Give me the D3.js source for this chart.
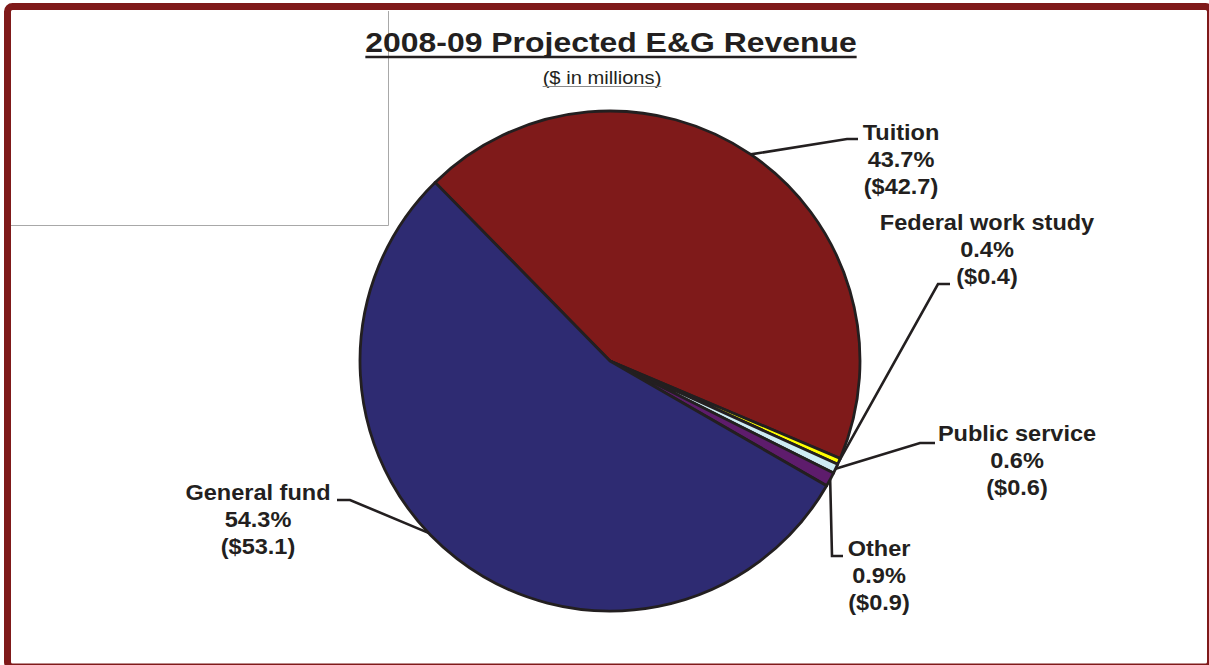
<!DOCTYPE html>
<html>
<head>
<meta charset="utf-8">
<script src="https://cdn.jsdelivr.net/npm/d3@7"></script>
<style>
  html, body { margin: 0; padding: 0; background: #fff; }
  svg { display: block; }
  text { font-family: "Liberation Sans", Arial, sans-serif; fill: #231f20; }
</style>
</head>
<body>
<svg id="chart" width="1209" height="665"></svg>
<script>
// Revenue sources, $ in millions
const categories = ["Tuition", "Federal work study", "Public service", "Other", "General fund"];
const amounts = [42.7, 0.4, 0.6, 0.9, 53.1];
const percentLabels = ["43.7%", "0.4%", "0.6%", "0.9%", "54.3%"];
const amountLabels = ["($42.7)", "($0.4)", "($0.6)", "($0.9)", "($53.1)"];
const titleText = "2008-09 Projected E&G Revenue";
const subtitleText = "($ in millions)";

const colors = ["#7f1a1a", "#ffff00", "#cdebf3", "#5e1c6c", "#2e2b72"];

// Label placement: text centre, first baseline, leader elbow and end,
// and where along its slice (0..1) the leader touches the rim.
const labelLayout = [
  { x: 901,  y: 140, elbow: [847, 139], end: [858, 139], at: 0.5 },
  { x: 987,  y: 230, elbow: [938, 284], end: [950, 284], at: 0.5 },
  { x: 1017, y: 441, elbow: [920, 443], end: [935, 443], at: 0.5 },
  { x: 879,  y: 556, elbow: [832, 556], end: [843, 556], at: 0.5 },
  { x: 258,  y: 500, elbow: [350, 500], end: [337, 500], at: 0.545 }
];

const W = 1209, H = 665;
const cx = 610, cy = 361, R = 250;
const lineStep = 27;

const svg = d3.select("#chart");

// outer frame
svg.append("rect")
  .attr("x", 7.5).attr("y", 6.5)
  .attr("width", 1203).attr("height", 660.5)
  .attr("rx", 5)
  .attr("fill", "none")
  .attr("stroke", "#7f1a1a")
  .attr("stroke-width", 7);

// faint inner box at the upper left
svg.append("path")
  .attr("d", d3.line()([[11, 225.5], [388.5, 225.5], [388.5, 11]]))
  .attr("fill", "none")
  .attr("stroke", "#a8a8a8")
  .attr("stroke-width", 1);

// text set slightly wide, as in the original chart
function wideText(parent, x, y, str, size, weight, sx) {
  const g = parent.append("g").attr("transform", `translate(${x},${y}) scale(${sx},1)`);
  const t = g.append("text")
    .attr("text-anchor", "middle")
    .attr("font-size", size)
    .attr("font-weight", weight)
    .text(str);
  return { g, t };
}

const title = wideText(svg, 611, 52, titleText, 28.5, "bold", 1.12);
{
  const bb = title.t.node().getBBox();
  title.g.append("line")
    .attr("x1", bb.x).attr("x2", bb.x + bb.width)
    .attr("y1", 5).attr("y2", 5)
    .attr("stroke", "#231f20").attr("stroke-width", 2.6);
}
const sub = wideText(svg, 602, 84, subtitleText, 18, "normal", 1.12);
{
  const bb = sub.t.node().getBBox();
  sub.g.append("line")
    .attr("x1", bb.x).attr("x2", bb.x + bb.width)
    .attr("y1", 2.5).attr("y2", 2.5)
    .attr("stroke", "#8a8a8a").attr("stroke-width", 1);
}

// pie
const startDeg = -44.4;
const pie = d3.pie()
  .sort(null)
  .value(d => d)
  .startAngle(startDeg * Math.PI / 180)
  .endAngle(startDeg * Math.PI / 180 + 2 * Math.PI);
const arcs = pie(amounts);
const arc = d3.arc().innerRadius(0).outerRadius(R);

const pieG = svg.append("g").attr("transform", `translate(${cx},${cy})`);
pieG.selectAll("path.slice")
  .data(arcs)
  .join("path")
  .attr("class", "slice")
  .attr("d", arc)
  .attr("fill", (d, i) => colors[i])
  .attr("stroke", "#231f20")
  .attr("stroke-width", 2.8)
  .attr("stroke-linejoin", "round");

// leader lines
arcs.forEach((a, i) => {
  const L = labelLayout[i];
  const ang = a.startAngle + (a.endAngle - a.startAngle) * L.at;
  const ax = cx + R * Math.sin(ang);
  const ay = cy - R * Math.cos(ang);
  svg.append("path")
    .attr("d", d3.line()([[ax, ay], L.elbow, L.end]))
    .attr("fill", "none")
    .attr("stroke", "#231f20")
    .attr("stroke-width", 2.6);
});

// labels
categories.forEach((c, i) => {
  const L = labelLayout[i];
  [c, percentLabels[i], amountLabels[i]].forEach((s, k) => {
    wideText(svg, L.x, L.y + k * lineStep, s, 22, "bold", 1.07);
  });
});
</script>
</body>
</html>
